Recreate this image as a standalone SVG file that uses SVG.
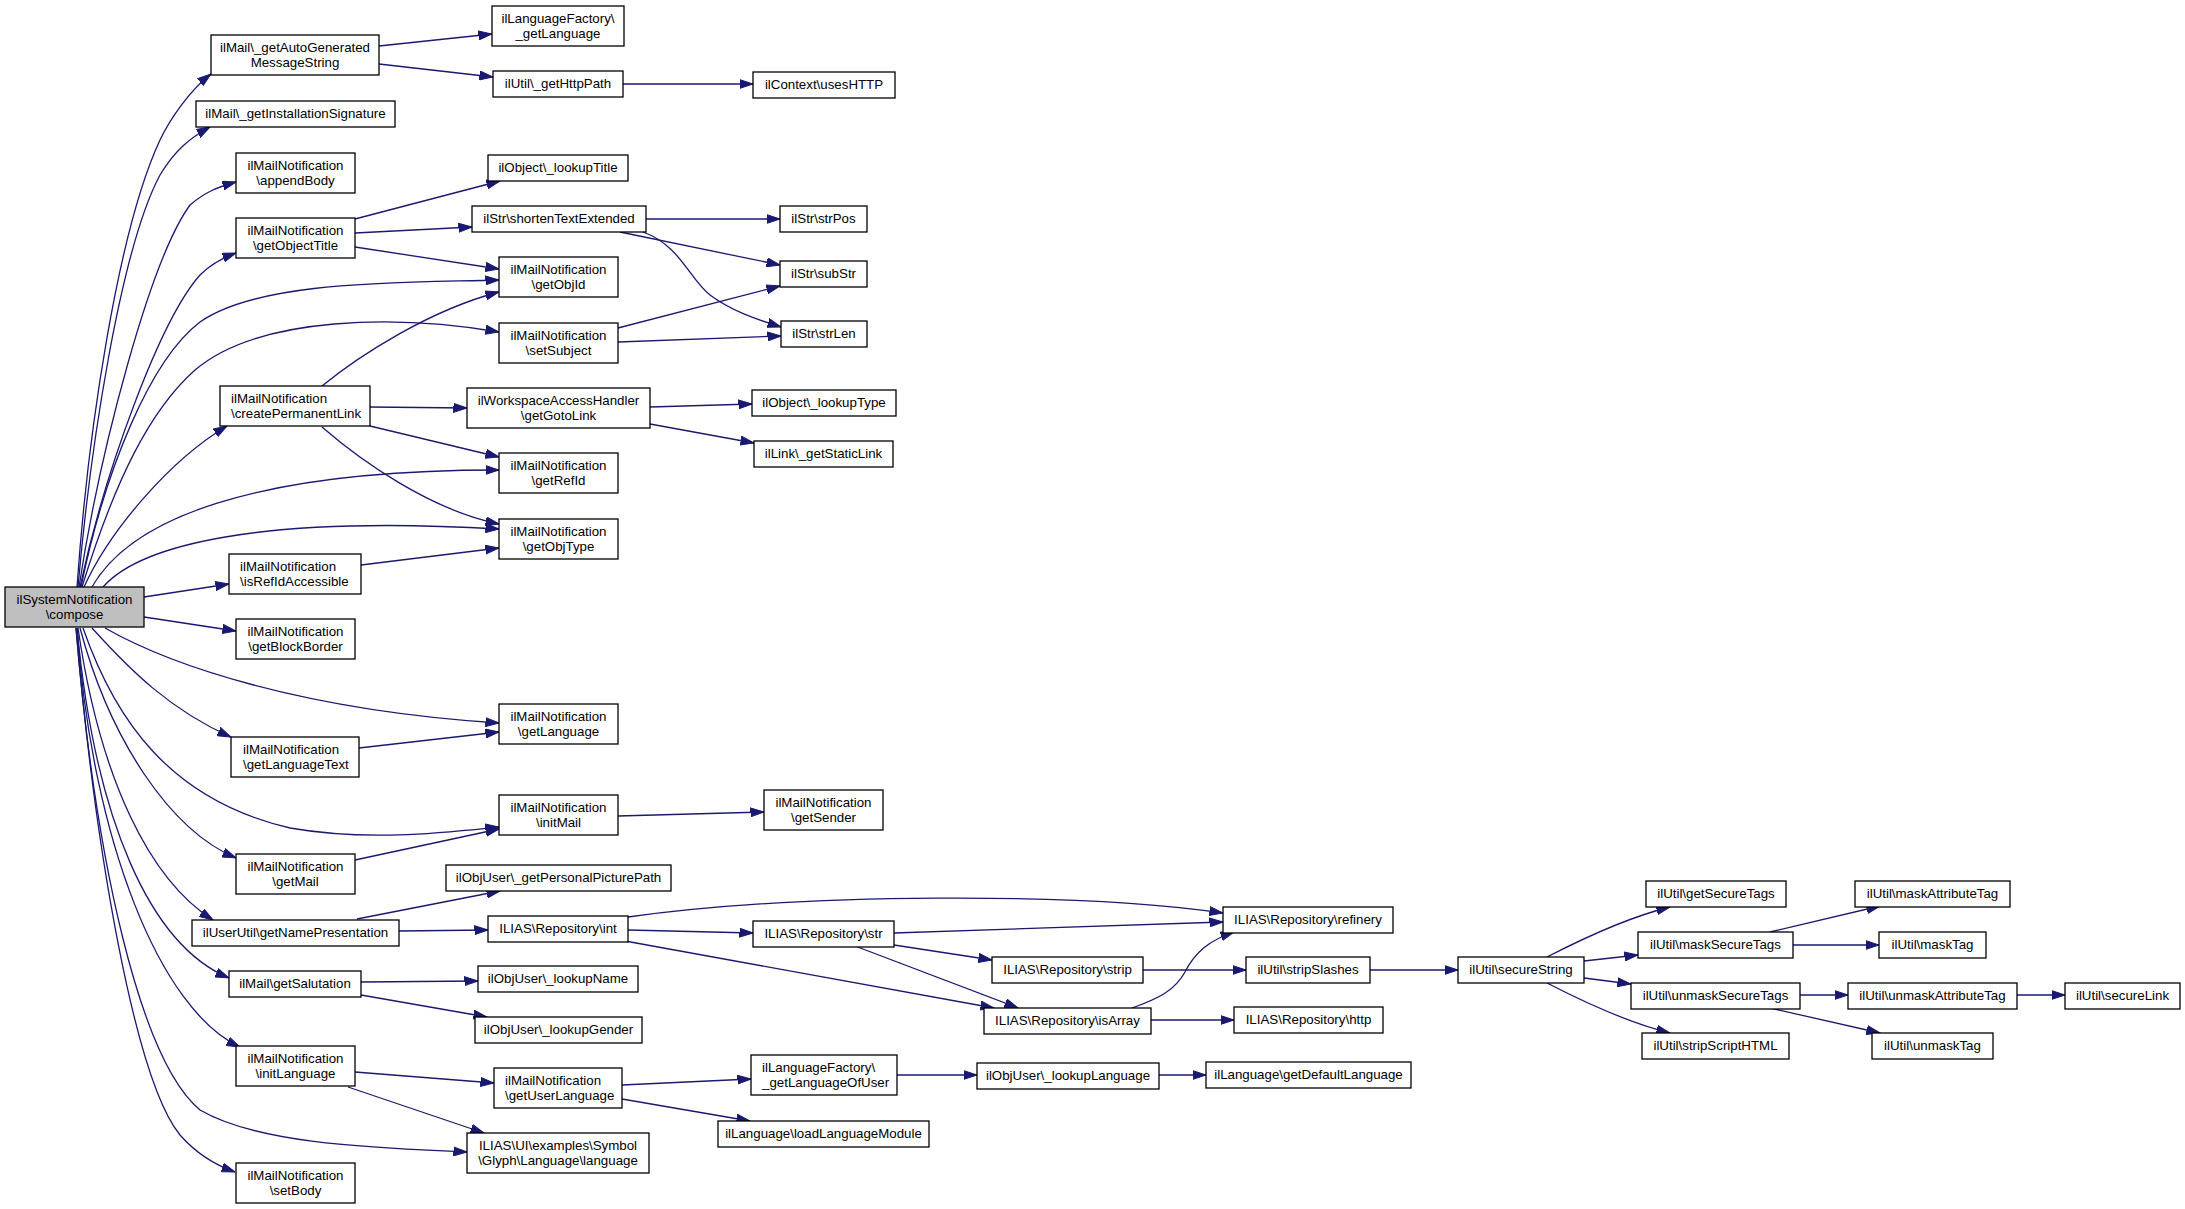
<svg xmlns="http://www.w3.org/2000/svg" width="2185" height="1209" viewBox="0 0 2185 1209">
<style>
.n rect{fill:#fff;stroke:#000;stroke-width:1.3}
.n.root rect{fill:#bfbfbf}
.n text{font-family:"Liberation Sans",Arial,Helvetica,sans-serif;font-size:13.3px;fill:#000}
.c{text-anchor:middle}
.e path{fill:none;stroke:#191970;stroke-width:1.3;marker-end:url(#a)}
</style>
<defs>
<marker id="a" markerUnits="userSpaceOnUse" markerWidth="14" markerHeight="10" refX="13.5" refY="5" orient="auto" viewBox="0 0 14 10">
<path d="M0,0.5 L13.5,5 L0,9.5 z" fill="#191970" stroke="#191970" stroke-width="1"/>
</marker>
</defs>
<rect width="2185" height="1209" fill="#fff"/>
<g id="edges" class="e">
<path d="M77,587 C88,430 118,230 160,140 C170,119 190,90 211,74"/>
<path d="M78,587 C90,450 120,250 160,175 C175,150 190,138 210,127"/>
<path d="M79,587 C100,450 150,260 190,205 C205,192 218,187 236,182"/>
<path d="M80,587 C105,470 160,320 200,275 C210,265 222,258 236,253"/>
<path d="M81,587 C105,470 150,360 200,322 C260,280 400,283 499,280"/>
<path d="M82,587 C115,480 150,410 195,370 C260,315 400,315 499,332"/>
<path d="M84,587 C110,530 170,460 227,426"/>
<path d="M92,587 C130,520 250,470 499,470"/>
<path d="M103,587 C140,545 260,515 499,529"/>
<path d="M144,597 L229,584"/>
<path d="M144,617 L236,631"/>
<path d="M105,628 C170,665 300,710 499,723"/>
<path d="M92,628 C130,670 170,710 231,737"/>
<path d="M83,628 C115,720 170,800 290,828 C370,842 450,832 499,827"/>
<path d="M80,628 C110,740 170,830 236,858"/>
<path d="M78,628 C100,780 150,880 213,920"/>
<path d="M77,628 C95,820 150,945 229,978"/>
<path d="M77,628 C92,840 160,1010 240,1047"/>
<path d="M76,628 C95,860 140,1060 200,1110 C260,1145 380,1148 467,1152"/>
<path d="M76,628 C95,850 135,1080 180,1135 C195,1152 215,1165 235,1172"/>
<path d="M379,46 L492,34"/>
<path d="M379,64 L493,77"/>
<path d="M623,84 L753,84"/>
<path d="M355,219 L500,181"/>
<path d="M355,233 L472,227"/>
<path d="M355,247 L499,269"/>
<path d="M322,386 C360,355 430,310 499,292"/>
<path d="M370,407 L467,408"/>
<path d="M370,426 L499,457"/>
<path d="M322,427 C360,460 430,510 499,524"/>
<path d="M361,565 L499,548"/>
<path d="M359,748 L499,732"/>
<path d="M355,860 L499,829"/>
<path d="M618,816 L764,812"/>
<path d="M357,919 L500,891"/>
<path d="M399,931 L488,930"/>
<path d="M361,982 L478,981"/>
<path d="M361,995 L487,1017"/>
<path d="M355,1072 L494,1083"/>
<path d="M348,1087 L484,1133"/>
<path d="M646,219 L780,219"/>
<path d="M620,232 L780,265"/>
<path d="M643,232 C680,245 690,280 710,295 C730,310 755,319 781,327"/>
<path d="M618,328 L780,286"/>
<path d="M618,342 L781,336"/>
<path d="M650,407 L752,404"/>
<path d="M650,424 L754,443"/>
<path d="M628,917 C800,893 1080,892 1223,913"/>
<path d="M628,930 L753,933"/>
<path d="M625,941 L994,1008"/>
<path d="M894,933 L1223,922"/>
<path d="M894,945 L992,960"/>
<path d="M855,946 L1018,1008"/>
<path d="M1132,1008 C1160,998 1175,990 1185,972 C1195,952 1210,940 1234,932"/>
<path d="M1151,1020 L1234,1020"/>
<path d="M1143,970 L1246,970"/>
<path d="M622,1085 L751,1079"/>
<path d="M622,1099 L750,1121"/>
<path d="M897,1075 L977,1075"/>
<path d="M1159,1075 L1206,1075"/>
<path d="M1370,970 L1458,970"/>
<path d="M1547,957 C1580,940 1625,918 1670,907"/>
<path d="M1584,961 L1638,955"/>
<path d="M1584,978 L1631,984"/>
<path d="M1547,983 C1580,1000 1625,1022 1670,1033"/>
<path d="M1770,932 L1880,906"/>
<path d="M1793,945 L1879,945"/>
<path d="M1800,995 L1848,995"/>
<path d="M1770,1008 L1880,1033"/>
<path d="M2017,995 L2065,995"/>
</g>
<g id="n0" class="n root"><rect x="5" y="587" width="139" height="40"/><text class="c" x="74.5" y="603.5">ilSystemNotification</text><text class="c" x="74.5" y="618.5">\compose</text></g>
<g id="n1" class="n"><rect x="211" y="35" width="168" height="40"/><text class="c" x="295" y="51.5">ilMail\_getAutoGenerated</text><text class="c" x="295" y="66.5">MessageString</text></g>
<g id="n2" class="n"><rect x="196" y="101" width="199" height="26"/><text class="c" x="295.5" y="118">ilMail\_getInstallationSignature</text></g>
<g id="n3" class="n"><rect x="236" y="153" width="119" height="40"/><text class="c" x="295.5" y="169.5">ilMailNotification</text><text class="c" x="295.5" y="184.5">\appendBody</text></g>
<g id="n4" class="n"><rect x="236" y="218" width="119" height="40"/><text class="c" x="295.5" y="234.5">ilMailNotification</text><text class="c" x="295.5" y="249.5">\getObjectTitle</text></g>
<g id="n5" class="n"><rect x="220" y="386" width="150" height="40"/><text x="231" y="402.5">ilMailNotification</text><text x="231" y="417.5">\createPermanentLink</text></g>
<g id="n6" class="n"><rect x="229" y="554" width="132" height="40"/><text x="240" y="570.5">ilMailNotification</text><text x="240" y="585.5">\isRefIdAccessible</text></g>
<g id="n7" class="n"><rect x="236" y="619" width="119" height="40"/><text class="c" x="295.5" y="635.5">ilMailNotification</text><text class="c" x="295.5" y="650.5">\getBlockBorder</text></g>
<g id="n8" class="n"><rect x="231" y="737" width="128" height="40"/><text x="243" y="753.5">ilMailNotification</text><text x="243" y="768.5">\getLanguageText</text></g>
<g id="n9" class="n"><rect x="236" y="854" width="119" height="40"/><text class="c" x="295.5" y="870.5">ilMailNotification</text><text class="c" x="295.5" y="885.5">\getMail</text></g>
<g id="n10" class="n"><rect x="192" y="920" width="207" height="26"/><text class="c" x="295.5" y="937">ilUserUtil\getNamePresentation</text></g>
<g id="n11" class="n"><rect x="229" y="971" width="132" height="26"/><text class="c" x="295" y="988">ilMail\getSalutation</text></g>
<g id="n12" class="n"><rect x="236" y="1046" width="119" height="40"/><text class="c" x="295.5" y="1062.5">ilMailNotification</text><text class="c" x="295.5" y="1077.5">\initLanguage</text></g>
<g id="n13" class="n"><rect x="236" y="1163" width="119" height="40"/><text class="c" x="295.5" y="1179.5">ilMailNotification</text><text class="c" x="295.5" y="1194.5">\setBody</text></g>
<g id="n14" class="n"><rect x="492" y="6" width="132" height="40"/><text class="c" x="558" y="22.5">ilLanguageFactory\</text><text class="c" x="558" y="37.5">_getLanguage</text></g>
<g id="n15" class="n"><rect x="493" y="71" width="130" height="26"/><text class="c" x="558" y="88">ilUtil\_getHttpPath</text></g>
<g id="n16" class="n"><rect x="488" y="155" width="140" height="26"/><text class="c" x="558" y="172">ilObject\_lookupTitle</text></g>
<g id="n17" class="n"><rect x="472" y="206" width="174" height="26"/><text class="c" x="559" y="223">ilStr\shortenTextExtended</text></g>
<g id="n18" class="n"><rect x="499" y="257" width="119" height="40"/><text class="c" x="558.5" y="273.5">ilMailNotification</text><text class="c" x="558.5" y="288.5">\getObjId</text></g>
<g id="n19" class="n"><rect x="499" y="323" width="119" height="40"/><text class="c" x="558.5" y="339.5">ilMailNotification</text><text class="c" x="558.5" y="354.5">\setSubject</text></g>
<g id="n20" class="n"><rect x="467" y="388" width="183" height="40"/><text class="c" x="558.5" y="404.5">ilWorkspaceAccessHandler</text><text class="c" x="558.5" y="419.5">\getGotoLink</text></g>
<g id="n21" class="n"><rect x="499" y="453" width="119" height="40"/><text class="c" x="558.5" y="469.5">ilMailNotification</text><text class="c" x="558.5" y="484.5">\getRefId</text></g>
<g id="n22" class="n"><rect x="499" y="519" width="119" height="40"/><text class="c" x="558.5" y="535.5">ilMailNotification</text><text class="c" x="558.5" y="550.5">\getObjType</text></g>
<g id="n23" class="n"><rect x="499" y="704" width="119" height="40"/><text class="c" x="558.5" y="720.5">ilMailNotification</text><text class="c" x="558.5" y="735.5">\getLanguage</text></g>
<g id="n24" class="n"><rect x="499" y="795" width="119" height="40"/><text class="c" x="558.5" y="811.5">ilMailNotification</text><text class="c" x="558.5" y="826.5">\initMail</text></g>
<g id="n25" class="n"><rect x="446" y="865" width="225" height="26"/><text class="c" x="558.5" y="882">ilObjUser\_getPersonalPicturePath</text></g>
<g id="n26" class="n"><rect x="488" y="916" width="140" height="26"/><text class="c" x="558" y="933">ILIAS\Repository\int</text></g>
<g id="n27" class="n"><rect x="478" y="966" width="160" height="26"/><text class="c" x="558" y="983">ilObjUser\_lookupName</text></g>
<g id="n28" class="n"><rect x="475" y="1017" width="167" height="26"/><text class="c" x="558.5" y="1034">ilObjUser\_lookupGender</text></g>
<g id="n29" class="n"><rect x="494" y="1068" width="128" height="40"/><text x="505" y="1084.5">ilMailNotification</text><text x="505" y="1099.5">\getUserLanguage</text></g>
<g id="n30" class="n"><rect x="467" y="1133" width="182" height="40"/><text class="c" x="558" y="1149.5">ILIAS\UI\examples\Symbol</text><text class="c" x="558" y="1164.5">\Glyph\Language\language</text></g>
<g id="n31" class="n"><rect x="753" y="72" width="142" height="26"/><text class="c" x="824" y="89">ilContext\usesHTTP</text></g>
<g id="n32" class="n"><rect x="780" y="206" width="87" height="26"/><text class="c" x="823.5" y="223">ilStr\strPos</text></g>
<g id="n33" class="n"><rect x="780" y="261" width="87" height="26"/><text class="c" x="823.5" y="278">ilStr\subStr</text></g>
<g id="n34" class="n"><rect x="781" y="321" width="86" height="26"/><text class="c" x="824" y="338">ilStr\strLen</text></g>
<g id="n35" class="n"><rect x="752" y="390" width="144" height="26"/><text class="c" x="824" y="407">ilObject\_lookupType</text></g>
<g id="n36" class="n"><rect x="754" y="441" width="139" height="26"/><text class="c" x="823.5" y="458">ilLink\_getStaticLink</text></g>
<g id="n37" class="n"><rect x="764" y="790" width="119" height="40"/><text class="c" x="823.5" y="806.5">ilMailNotification</text><text class="c" x="823.5" y="821.5">\getSender</text></g>
<g id="n38" class="n"><rect x="753" y="921" width="141" height="26"/><text class="c" x="823.5" y="938">ILIAS\Repository\str</text></g>
<g id="n39" class="n"><rect x="751" y="1055" width="146" height="40"/><text x="762" y="1071.5">ilLanguageFactory\</text><text x="762" y="1086.5">_getLanguageOfUser</text></g>
<g id="n40" class="n"><rect x="718" y="1121" width="211" height="26"/><text class="c" x="823.5" y="1138">ilLanguage\loadLanguageModule</text></g>
<g id="n41" class="n"><rect x="992" y="957" width="151" height="26"/><text class="c" x="1067.5" y="974">ILIAS\Repository\strip</text></g>
<g id="n42" class="n"><rect x="984" y="1008" width="167" height="26"/><text class="c" x="1067.5" y="1025">ILIAS\Repository\isArray</text></g>
<g id="n43" class="n"><rect x="977" y="1063" width="182" height="26"/><text class="c" x="1068" y="1080">ilObjUser\_lookupLanguage</text></g>
<g id="n44" class="n"><rect x="1223" y="907" width="170" height="26"/><text class="c" x="1308" y="924">ILIAS\Repository\refinery</text></g>
<g id="n45" class="n"><rect x="1246" y="957" width="124" height="26"/><text class="c" x="1308" y="974">ilUtil\stripSlashes</text></g>
<g id="n46" class="n"><rect x="1234" y="1007" width="149" height="26"/><text class="c" x="1308.5" y="1024">ILIAS\Repository\http</text></g>
<g id="n47" class="n"><rect x="1206" y="1062" width="205" height="26"/><text class="c" x="1308.5" y="1079">ilLanguage\getDefaultLanguage</text></g>
<g id="n48" class="n"><rect x="1458" y="957" width="126" height="26"/><text class="c" x="1521" y="974">ilUtil\secureString</text></g>
<g id="n49" class="n"><rect x="1646" y="881" width="140" height="26"/><text class="c" x="1716" y="898">ilUtil\getSecureTags</text></g>
<g id="n50" class="n"><rect x="1638" y="932" width="155" height="26"/><text class="c" x="1715.5" y="949">ilUtil\maskSecureTags</text></g>
<g id="n51" class="n"><rect x="1631" y="983" width="169" height="26"/><text class="c" x="1715.5" y="1000">ilUtil\unmaskSecureTags</text></g>
<g id="n52" class="n"><rect x="1642" y="1033" width="147" height="26"/><text class="c" x="1715.5" y="1050">ilUtil\stripScriptHTML</text></g>
<g id="n53" class="n"><rect x="1855" y="881" width="155" height="26"/><text class="c" x="1932.5" y="898">ilUtil\maskAttributeTag</text></g>
<g id="n54" class="n"><rect x="1879" y="932" width="107" height="26"/><text class="c" x="1932.5" y="949">ilUtil\maskTag</text></g>
<g id="n55" class="n"><rect x="1848" y="983" width="169" height="26"/><text class="c" x="1932.5" y="1000">ilUtil\unmaskAttributeTag</text></g>
<g id="n56" class="n"><rect x="1872" y="1033" width="121" height="26"/><text class="c" x="1932.5" y="1050">ilUtil\unmaskTag</text></g>
<g id="n57" class="n"><rect x="2065" y="983" width="115" height="26"/><text class="c" x="2122.5" y="1000">ilUtil\secureLink</text></g>
</svg>
